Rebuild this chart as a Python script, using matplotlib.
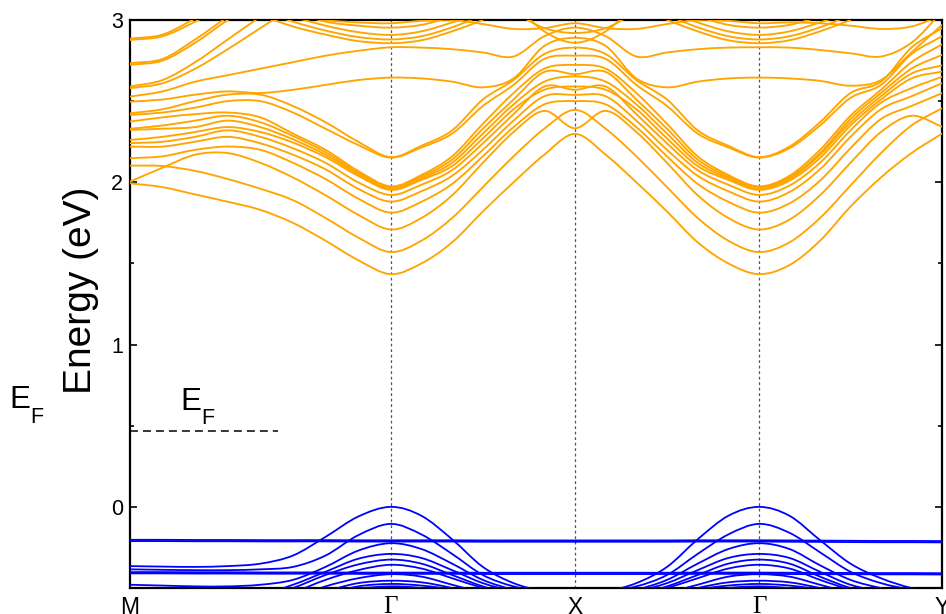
import numpy as np
import matplotlib
matplotlib.use("Agg")
import matplotlib.pyplot as plt
from matplotlib.path import Path
from matplotlib.patches import PathPatch
from matplotlib.ticker import MultipleLocator

nan = float("nan")

# High-symmetry path: node positions (path length, arbitrary units) and labels
K_NODES = [0.0, 2.607, 4.450, 6.290, 8.120]
K_LABELS = ["M", "Γ", "X", "Γ", "Y"]

# Sampling points per segment: M-Γ (9 pts), Γ-X (7 pts), Γ-Y (7 pts).
# The X-Γ segment is the mirror image of Γ-X.

# ---------------- conduction bands (eV) ----------------
CB_MG = [
    [1.994, 1.970, 1.925, 1.880, 1.830, 1.750, 1.640, 1.520, 1.434],
    [2.103, 2.100, 2.070, 2.020, 1.960, 1.890, 1.780, 1.660, 1.570],
    [2.004, 2.090, 2.170, 2.180, 2.120, 2.030, 1.920, 1.800, 1.709],
    [2.148, 2.160, 2.200, 2.220, 2.200, 2.120, 2.020, 1.900, 1.813],
    [2.220, 2.220, 2.250, 2.280, 2.240, 2.170, 2.080, 1.960, 1.881],
    [2.241, 2.250, 2.280, 2.320, 2.280, 2.210, 2.120, 2.000, 1.922],
    [2.261, 2.280, 2.310, 2.340, 2.310, 2.245, 2.155, 2.040, 1.953],
    [2.323, 2.330, 2.340, 2.380, 2.340, 2.265, 2.170, 2.050, 1.962],
    [2.330, 2.350, 2.380, 2.410, 2.370, 2.285, 2.185, 2.060, 1.968],
    [2.374, 2.400, 2.420, 2.430, 2.400, 2.300, 2.200, 2.070, 1.975],
    [2.415, 2.430, 2.460, 2.500, 2.500, 2.430, 2.330, 2.230, 2.152],
    [2.425, 2.450, 2.500, 2.540, 2.540, 2.470, 2.370, 2.250, 2.155],
    [2.497, 2.510, 2.540, 2.560, 2.550, 2.570, 2.600, 2.630, 2.645],
    [2.528, 2.560, 2.620, 2.660, 2.700, 2.740, 2.780, 2.810, 2.832],
    [nan, nan, nan, nan, nan, 3.040, 3.000, 2.985, 2.980],
    [nan, nan, nan, nan, 3.030, 2.960, 2.910, 2.870, 2.857],
    [nan, nan, nan, nan, 3.060, 2.990, 2.935, 2.895, 2.880],
    [nan, nan, nan, nan, nan, 3.020, 2.965, 2.925, 2.908],
    [nan, nan, nan, nan, nan, 3.050, 2.990, 2.965, 2.953],
    [2.580, 2.610, 2.700, 2.820, 2.950, 3.080, nan, nan, nan],
    [2.590, 2.630, 2.740, 2.880, 3.020, 3.150, nan, nan, nan],
    [2.723, 2.750, 2.860, 3.000, 3.120, nan, nan, nan, nan],
    [2.734, 2.760, 2.880, 3.020, 3.150, nan, nan, nan, nan],
    [2.877, 2.900, 2.990, 3.100, nan, nan, nan, nan, nan],
    [2.885, 2.910, 3.010, 3.120, nan, nan, nan, nan, nan],
    [nan, nan, nan, nan, nan, nan, nan, nan, nan],
    [nan, nan, nan, nan, nan, nan, nan, nan, nan],
]
CB_GX = [
    [1.434, 1.500, 1.630, 1.820, 2.000, 2.170, 2.298],
    [1.570, 1.640, 1.780, 1.970, 2.160, 2.330, 2.446],
    [1.709, 1.780, 1.920, 2.120, 2.310, 2.440, 2.333],
    [1.813, 1.880, 1.990, 2.160, 2.340, 2.480, 2.500],
    [1.881, 1.945, 2.040, 2.200, 2.380, 2.530, 2.538],
    [1.922, 1.985, 2.075, 2.240, 2.420, 2.590, 2.570],
    [1.953, 2.015, 2.100, 2.270, 2.450, 2.570, 2.590],
    [1.962, 2.025, 2.120, 2.300, 2.480, 2.620, 2.652],
    [1.968, 2.035, 2.140, 2.330, 2.510, 2.680, 2.666],
    [1.975, 2.045, 2.160, 2.360, 2.550, 2.700, 2.723],
    [2.152, 2.215, 2.300, 2.470, 2.600, 2.760, 2.780],
    [2.155, 2.225, 2.320, 2.510, 2.630, 2.790, 2.830],
    [2.645, 2.640, 2.620, 2.585, 2.640, 2.840, 2.890],
    [2.832, 2.830, 2.820, 2.800, 2.775, 2.900, 2.953],
    [2.980, 2.995, 3.000, 2.975, 2.945, 2.950, 2.980],
    [2.857, 2.875, 2.930, 3.000, nan, nan, nan],
    [2.880, 2.900, 2.955, 3.030, nan, nan, nan],
    [2.908, 2.930, 2.985, 3.050, nan, nan, nan],
    [2.953, 2.970, 3.020, nan, nan, nan, nan],
    [nan, nan, nan, nan, nan, nan, nan],
    [nan, nan, nan, nan, nan, nan, nan],
    [nan, nan, nan, nan, nan, nan, nan],
    [nan, nan, nan, nan, nan, nan, nan],
    [nan, nan, nan, nan, nan, nan, nan],
    [nan, nan, nan, nan, nan, nan, nan],
    [nan, nan, nan, nan, 3.100, 2.930, 2.860],
    [nan, nan, nan, nan, 3.050, 2.950, 2.920],
]
CB_GY = [
    [1.434, 1.490, 1.640, 1.850, 2.030, 2.180, 2.300],
    [1.570, 1.630, 1.780, 1.980, 2.180, 2.350, 2.456],
    [1.709, 1.770, 1.920, 2.120, 2.310, 2.410, 2.343],
    [1.813, 1.870, 2.010, 2.210, 2.390, 2.470, 2.549],
    [1.881, 1.940, 2.080, 2.280, 2.450, 2.530, 2.610],
    [1.922, 1.980, 2.120, 2.320, 2.490, 2.580, 2.650],
    [1.953, 2.010, 2.150, 2.350, 2.510, 2.640, 2.682],
    [1.962, 2.020, 2.170, 2.370, 2.530, 2.670, 2.720],
    [1.968, 2.030, 2.180, 2.390, 2.550, 2.700, 2.785],
    [1.975, 2.040, 2.200, 2.410, 2.570, 2.740, 2.850],
    [2.152, 2.210, 2.350, 2.520, 2.600, 2.790, 2.900],
    [2.155, 2.220, 2.370, 2.550, 2.620, 2.830, 2.950],
    [2.645, 2.640, 2.625, 2.595, 2.630, 2.800, 2.970],
    [2.832, 2.830, 2.815, 2.795, 2.775, 2.860, 3.050],
    [2.980, 2.985, 2.980, 2.965, 2.945, 2.960, 3.030],
    [2.857, 2.875, 2.930, 3.000, nan, nan, nan],
    [2.880, 2.900, 2.955, 3.030, nan, nan, nan],
    [2.908, 2.930, 2.985, 3.050, nan, nan, nan],
    [2.953, 2.970, 3.020, nan, nan, nan, nan],
    [nan, nan, nan, nan, nan, nan, nan],
    [nan, nan, nan, nan, nan, nan, nan],
    [nan, nan, nan, nan, nan, nan, nan],
    [nan, nan, nan, nan, nan, nan, nan],
    [nan, nan, nan, nan, nan, nan, nan],
    [nan, nan, nan, nan, nan, nan, nan],
    [nan, nan, nan, nan, nan, nan, nan],
    [nan, nan, nan, nan, nan, nan, nan],
]

# ---------------- valence bands (eV) ----------------
VB_MG = [
    [-0.365, -0.368, -0.370, -0.365, -0.350, -0.300, -0.185, -0.060, 0.000],
    [-0.385, -0.388, -0.390, -0.390, -0.385, -0.370, -0.300, -0.175, -0.105],
    [-0.480, -0.485, -0.490, -0.490, -0.480, -0.450, -0.370, -0.270, -0.224],
    [nan, nan, nan, -0.560, -0.540, -0.480, -0.400, -0.320, -0.290],
    [nan, nan, nan, nan, -0.560, -0.500, -0.420, -0.355, -0.325],
    [nan, nan, nan, nan, nan, -0.530, -0.450, -0.390, -0.357],
    [nan, nan, nan, nan, nan, -0.560, -0.490, -0.440, -0.415],
    [nan, nan, nan, nan, nan, nan, -0.520, -0.470, -0.455],
    [nan, nan, nan, nan, nan, nan, -0.540, -0.490, -0.475],
    [nan, nan, nan, nan, nan, nan, -0.550, -0.505, -0.490],
    [-0.203, -0.203, -0.204, -0.204, -0.205, -0.205, -0.205, -0.206, -0.206],
    [-0.211, -0.211, -0.212, -0.212, -0.213, -0.213, -0.213, -0.214, -0.214],
    [-0.402, -0.402, -0.403, -0.403, -0.404, -0.404, -0.404, -0.405, -0.405],
    [-0.410, -0.410, -0.411, -0.411, -0.412, -0.412, -0.412, -0.413, -0.413],
]
VB_GX = [
    [0.000, -0.055, -0.200, -0.370, -0.470, -0.520, -0.530],
    [-0.105, -0.170, -0.290, -0.420, -0.490, -0.520, -0.530],
    [-0.224, -0.260, -0.350, -0.450, -0.510, -0.540, nan],
    [-0.290, -0.315, -0.390, -0.470, -0.520, -0.550, nan],
    [-0.325, -0.350, -0.420, -0.490, -0.540, nan, nan],
    [-0.357, -0.380, -0.440, -0.500, -0.550, nan, nan],
    [-0.415, -0.430, -0.480, -0.530, nan, nan, nan],
    [-0.455, -0.465, -0.500, -0.550, nan, nan, nan],
    [-0.475, -0.485, -0.510, -0.560, nan, nan, nan],
    [-0.490, -0.500, -0.530, nan, nan, nan, nan],
    [-0.206, -0.206, -0.206, -0.207, -0.207, -0.207, -0.207],
    [-0.214, -0.214, -0.214, -0.215, -0.215, -0.215, -0.215],
    [-0.405, -0.405, -0.405, -0.406, -0.406, -0.406, -0.406],
    [-0.413, -0.413, -0.413, -0.414, -0.414, -0.414, -0.414],
]
VB_GY = [
    [0.000, -0.055, -0.205, -0.350, -0.440, -0.500, -0.530],
    [-0.105, -0.160, -0.280, -0.400, -0.470, -0.510, -0.530],
    [-0.224, -0.260, -0.360, -0.450, -0.500, -0.530, -0.550],
    [-0.290, -0.315, -0.400, -0.480, -0.520, -0.550, nan],
    [-0.325, -0.350, -0.430, -0.500, -0.540, nan, nan],
    [-0.357, -0.380, -0.450, -0.510, -0.550, nan, nan],
    [-0.415, -0.430, -0.480, -0.530, nan, nan, nan],
    [-0.455, -0.465, -0.500, -0.540, nan, nan, nan],
    [-0.475, -0.485, -0.510, -0.550, nan, nan, nan],
    [-0.490, -0.500, -0.520, -0.560, nan, nan, nan],
    [-0.206, -0.207, -0.208, -0.209, -0.210, -0.210, -0.211],
    [-0.214, -0.215, -0.216, -0.217, -0.218, -0.218, -0.219],
    [-0.405, -0.406, -0.407, -0.407, -0.408, -0.408, -0.409],
    [-0.413, -0.414, -0.415, -0.415, -0.416, -0.416, -0.417],
]

EF_LEVEL = 0.47      # Fermi level marker (eV)
EF_LINE_END = 1.48   # extent of the marker along the path

plt.rcParams["font.family"] = ["Liberation Sans", "DejaVu Sans"]

W, H = 946, 614
fig = plt.figure(figsize=(W / 100, H / 100), dpi=100)
ax = fig.add_axes([130 / W, 26 / H, 812 / W, 568 / H])

k_mg = np.linspace(K_NODES[0], K_NODES[1], 9)
k_gx = np.linspace(K_NODES[1], K_NODES[2], 7)
k_xg = np.linspace(K_NODES[2], K_NODES[3], 7)
k_gy = np.linspace(K_NODES[3], K_NODES[4], 7)
k_path = np.concatenate([k_mg, k_gx[1:], k_xg[1:], k_gy[1:]])


def full_band(mg, gx, gy):
    gx = list(gx)
    return np.array(list(mg) + gx[1:] + gx[::-1][1:] + list(gy)[1:], float)


def smooth_path(xs, ys):
    pts = np.column_stack([xs, ys])
    tang = np.zeros_like(pts)
    if len(pts) > 2:
        tang[1:-1] = (pts[2:] - pts[:-2]) / 2.0
    tang[0] = pts[1] - pts[0]
    tang[-1] = pts[-1] - pts[-2]
    verts = [pts[0]]
    codes = [Path.MOVETO]
    for i in range(len(pts) - 1):
        verts += [pts[i] + tang[i] / 3.0, pts[i + 1] - tang[i + 1] / 3.0, pts[i + 1]]
        codes += [Path.CURVE4] * 3
    return Path(verts, codes)


def draw_band(energies, color, lw):
    ok = np.flatnonzero(~np.isnan(energies))
    if len(ok) < 2:
        return
    runs = np.split(ok, np.where(np.diff(ok) != 1)[0] + 1)
    for r in runs:
        if len(r) < 2:
            continue
        ax.add_patch(PathPatch(smooth_path(k_path[r], energies[r]), fill=False,
                               edgecolor=color, lw=lw, capstyle="round",
                               joinstyle="round", zorder=3))


for k in K_NODES[1:-1]:
    ax.axvline(k, color="#555555", lw=0.9, ls=(0, (2.2, 2.2)), zorder=1)

for mg, gx, gy in zip(CB_MG, CB_GX, CB_GY):
    draw_band(full_band(mg, gx, gy), "#FFA500", 1.35)
for mg, gx, gy in zip(VB_MG, VB_GX, VB_GY):
    draw_band(full_band(mg, gx, gy), "#0000FF", 1.3)

# Fermi level marker
ax.plot([K_NODES[0], EF_LINE_END], [EF_LEVEL, EF_LEVEL], color="black",
        lw=1.1, ls=(0, (5.2, 3.3)), zorder=2)
ax.text(0.50, 0.598, "E", fontsize=22.5, va="baseline", ha="left")
ax.text(0.71, 0.511, "F", fontsize=15.5, va="baseline", ha="left")

fig.text(9 / W, 1 - 408 / H, "E", fontsize=22.5, va="baseline", ha="left")
fig.text(30 / W, 1 - 423 / H, "F", fontsize=15.5, va="baseline", ha="left")

fig.text(81 / W, 1 - 290 / H, "Energy (eV)", rotation=90, fontsize=28,
         ha="center", va="center")

ax.set_xlim(K_NODES[0], K_NODES[-1])
ax.set_ylim(-0.5, 3.0)
ax.set_yticks([0, 1, 2, 3])
ax.yaxis.set_minor_locator(MultipleLocator(0.5))
ax.tick_params(axis="y", which="both", direction="in", left=True, right=True,
               width=1.2, labelsize=15.5, pad=5)
ax.tick_params(axis="y", which="major", length=5)
ax.tick_params(axis="y", which="minor", length=3)
ax.set_xticks(K_NODES)
ax.set_xticklabels(K_LABELS)
ax.tick_params(axis="x", length=0, pad=6, labelsize=16.5)
for lbl in ax.get_xticklabels():
    if lbl.get_text() == "Γ":
        lbl.set_fontfamily(["Liberation Serif", "DejaVu Serif"])
        lbl.set_fontsize(18)
for s in ax.spines.values():
    s.set_linewidth(1.6)

fig.savefig("out.png", dpi=100)
